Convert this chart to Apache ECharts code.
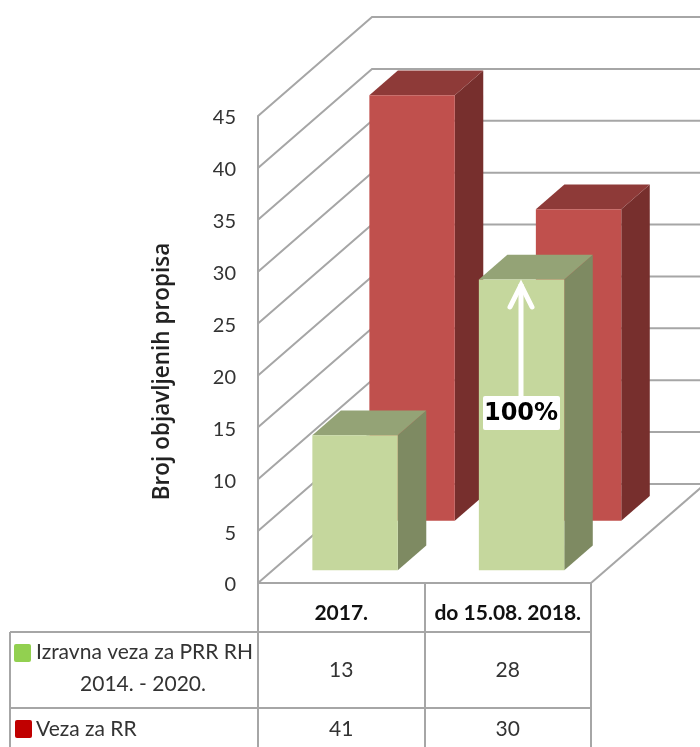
<!DOCTYPE html>
<html>
<head>
<meta charset="utf-8">
<style>html,body{margin:0;padding:0;background:#fff}#c{width:700px;height:747px}</style>
<script src="https://cdn.jsdelivr.net/npm/echarts@6/dist/echarts.min.js"></script>
</head>
<body>
<div id="c"></div>
<script>
var categories = ['2017.', 'do 15.08. 2018.'];
var greenValues = [13, 28];
var redValues = [41, 30];
var greenName = 'Izravna veza za PRR RH';
var greenNameLine2 = '2014. - 2020.';
var redName = 'Veza za RR';
var yTicks = [0, 5, 10, 15, 20, 25, 30, 35, 40, 45];
var axisTitle = 'Broj objavljenih propisa';

var FAMILY = 'Lato, "Open Sans", sans-serif';
var FONT = FAMILY;
var LINE = '#a6a6a6';
var DX = 114, DY = -99;           // full depth of the 3D box in pixels

function bar3d(depth, front, top, side) {
  return function (params, api) {
    var i = api.value(0), v = api.value(1);
    var w = api.size([1, 0])[0] * 0.513;
    var ox = DX * depth - 1, oy = DY * depth;
    var sx = DX * 0.25, sy = DY * 0.25;
    var p0 = api.coord([i, 0]), p1 = api.coord([i, v]);
    var l = p0[0] - w / 2 + ox, r = l + w, b = p0[1] + oy, t = p1[1] + oy;
    return {
      type: 'group',
      children: [
        { type: 'polygon', shape: { points: [[r, b], [r + sx, b + sy], [r + sx, t + sy], [r, t]] }, style: { fill: side } },
        { type: 'polygon', shape: { points: [[l, t], [r, t], [r + sx, t + sy], [l + sx, t + sy]] }, style: { fill: top } },
        { type: 'rect', shape: { x: l, y: t, width: w, height: b - t }, style: { fill: front } }
      ]
    };
  };
}

function wallLines(params, api) {
  var cs = params.coordSys;
  var y = api.coord([0, api.value(0)])[1];
  var x0 = cs.x, x1 = cs.x + cs.width + DX;
  return {
    type: 'polyline',
    shape: { points: [[x0, y], [x0 + DX, y + DY], [x1, y + DY]] },
    style: { stroke: LINE, lineWidth: 2, fill: 'none' }
  };
}

function floorRight(params, api) {
  var cs = params.coordSys, y = cs.y + cs.height, x = cs.x + cs.width;
  return { type: 'line', shape: { x1: x, y1: y, x2: x + DX, y2: y + DY }, style: { stroke: LINE, lineWidth: 2 } };
}

function tableValues(rowY) {
  return function (params, api) {
    var c = api.coord([api.value(0), 0]);
    return { type: 'text', style: { x: c[0], y: rowY, text: String(api.value(1)), font: '21px ' + FONT, fill: '#333', align: 'center', verticalAlign: 'middle' } };
  };
}

function indexed(arr) { return arr.map(function (v, i) { return [i, v]; }); }

var ln = function (x1, y1, x2, y2) {
  return { type: 'line', z: 50, shape: { x1: x1, y1: y1, x2: x2, y2: y2 }, style: { stroke: LINE, lineWidth: 2 } };
};
var txt = function (x, y, s, align) {
  return { type: 'text', z: 50, style: { x: x, y: y, text: s, font: '21px ' + FONT, fill: '#333', align: align || 'left', verticalAlign: 'middle' } };
};

var chart = echarts.init(document.getElementById('c'), null, { renderer: 'canvas' });
chart.setOption({
  animation: false,
  backgroundColor: '#fff',
  grid: { left: 258, right: 109, top: 116, bottom: 164 },
  xAxis: {
    type: 'category',
    data: categories,
    axisLine: { lineStyle: { color: LINE, width: 2 } },
    axisTick: { show: false },
    axisLabel: { margin: 20, fontFamily: FAMILY, fontWeight: 'bold', fontSize: 21, color: '#111', interval: 0 }
  },
  yAxis: {
    type: 'value',
    min: 0, max: 45, interval: 5,
    name: axisTitle,
    nameLocation: 'middle',
    nameGap: 84,
    nameTextStyle: { fontFamily: '"Open Sans", sans-serif', fontWeight: 600, fontSize: 22.5, color: '#222', padding: [0, 44, 0, 0] },
    axisLine: { show: true, lineStyle: { color: LINE, width: 2 } },
    axisTick: { show: false },
    splitLine: { show: false },
    axisLabel: { margin: 22, fontFamily: FAMILY, fontSize: 20, color: '#333', verticalAlign: 'top', lineHeight: 4 }
  },
  graphic: [
    ln(10, 632, 591, 632), ln(10, 708, 591, 708),
    ln(10, 632, 10, 747), ln(258, 583, 258, 747), ln(425, 583, 425, 747), ln(591, 583, 591, 747),
    { type: 'rect', z: 50, shape: { x: 14, y: 644, width: 17, height: 18, r: 2 }, style: { fill: '#92d050' } },
    { type: 'rect', z: 50, shape: { x: 15, y: 720, width: 17, height: 18, r: 2 }, style: { fill: '#c00000' } },
    txt(36, 652, greenName), txt(143, 684, greenNameLine2, 'center'), txt(36, 729, redName),
    // white arrow and label
    { type: 'line', z: 60, shape: { x1: 521, y1: 398, x2: 521, y2: 284 }, style: { stroke: '#fff', lineWidth: 5 } },
    { type: 'polyline', z: 60, shape: { points: [[510, 307], [521, 285], [532, 307]] }, style: { stroke: '#fff', lineWidth: 5, lineCap: 'round', fill: 'none' } },
    { type: 'rect', z: 61, shape: { x: 483, y: 396, width: 77, height: 34, r: 2 }, style: { fill: '#fff' } },
    { type: 'text', z: 62, style: { x: 521, y: 414, text: '100%', font: 'bold 24px "DejaVu Sans", sans-serif', fill: '#000', align: 'center', verticalAlign: 'middle' } }
  ],
  series: [
    { type: 'custom', name: 'walls', z: 1, silent: true, clip: false, data: yTicks.map(function (t) { return [t]; }), encode: { y: 0 }, renderItem: wallLines },
    { type: 'custom', name: 'floor', z: 1, silent: true, clip: false, data: [[0]], encode: { y: 0 }, renderItem: floorRight },
    { type: 'custom', name: redName, z: 2, clip: false, data: indexed(redValues), encode: { x: 0, y: 1 }, renderItem: bar3d(0.63, '#c0504d', '#8e3a38', '#772f2d') },
    { type: 'custom', name: greenName, z: 3, clip: false, data: indexed(greenValues), encode: { x: 0, y: 1 }, renderItem: bar3d(0.13, '#c5d79d', '#94a376', '#7e8a62') },
    { type: 'custom', name: 'tableGreen', z: 4, silent: true, clip: false, data: indexed(greenValues), encode: { x: 0, y: 1 }, renderItem: tableValues(670) },
    { type: 'custom', name: 'tableRed', z: 4, silent: true, clip: false, data: indexed(redValues), encode: { x: 0, y: 1 }, renderItem: tableValues(729) }
  ]
});
</script>
</body>
</html>
